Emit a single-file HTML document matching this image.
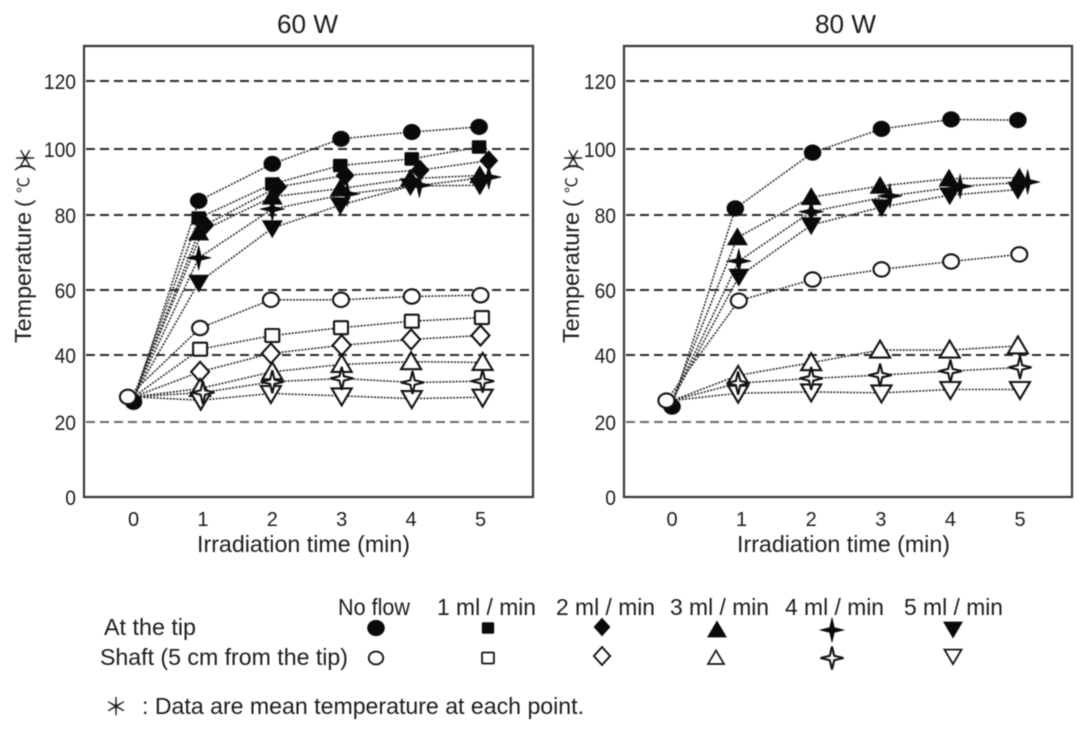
<!DOCTYPE html>
<html lang="en">
<head>
<meta charset="utf-8">
<title>Temperature vs irradiation time at 60 W and 80 W</title>
<style>
html,body{margin:0;padding:0;background:#fff;}
svg{display:block;filter:blur(0.45px);}
text{font-family:"Liberation Sans","Noto Sans CJK JP",sans-serif;fill:#1c1c1c;}
</style>
</head>
<body>
<svg id="figure" xmlns="http://www.w3.org/2000/svg" width="1087" height="733" viewBox="0 0 1087 733">
  <rect x="0" y="0" width="1087" height="733" fill="#fff"/>
  <text x="277" y="33" font-size="26" textLength="61" lengthAdjust="spacingAndGlyphs">60 W</text>
  <text x="815" y="33" font-size="26" textLength="61" lengthAdjust="spacingAndGlyphs">80 W</text>

  <g id="panel-60"></g>
  <g id="panel-80"></g>

  <text x="197" y="552" font-size="23" textLength="213" lengthAdjust="spacingAndGlyphs">Irradiation time (min)</text>
  <text x="737" y="552" font-size="23" textLength="213" lengthAdjust="spacingAndGlyphs">Irradiation time (min)</text>

  <g transform="translate(31,343) rotate(-90)">
    <text x="0" y="0" font-size="23" textLength="131" lengthAdjust="spacingAndGlyphs">Temperature</text>
    <text x="136" y="0" font-size="22">(</text>
    <text x="150" y="-2" font-size="16">℃</text>
    <text x="172" y="0" font-size="22">)</text>
    <text x="173" y="3" font-size="24">＊</text>
  </g>
  <g transform="translate(579,343) rotate(-90)">
    <text x="0" y="0" font-size="23" textLength="131" lengthAdjust="spacingAndGlyphs">Temperature</text>
    <text x="136" y="0" font-size="22">(</text>
    <text x="150" y="-2" font-size="16">℃</text>
    <text x="172" y="0" font-size="22">)</text>
    <text x="173" y="3" font-size="24">＊</text>
  </g>

  <g id="legend">
    <text x="338" y="615" font-size="23" textLength="72" lengthAdjust="spacingAndGlyphs">No flow</text>
    <text x="437" y="615" font-size="23" textLength="99" lengthAdjust="spacingAndGlyphs">1 ml / min</text>
    <text x="556" y="615" font-size="23" textLength="99" lengthAdjust="spacingAndGlyphs">2 ml / min</text>
    <text x="670" y="615" font-size="23" textLength="99" lengthAdjust="spacingAndGlyphs">3 ml / min</text>
    <text x="785" y="615" font-size="23" textLength="99" lengthAdjust="spacingAndGlyphs">4 ml / min</text>
    <text x="904" y="615" font-size="23" textLength="99" lengthAdjust="spacingAndGlyphs">5 ml / min</text>
    <text x="104" y="635" font-size="23" textLength="92" lengthAdjust="spacingAndGlyphs">At the tip</text>
    <text x="100" y="665" font-size="23" textLength="248" lengthAdjust="spacingAndGlyphs">Shaft (5 cm from the tip)</text>
  </g>

  <text x="104" y="715" font-size="24">＊</text>
  <text x="142" y="714" font-size="23" textLength="442" lengthAdjust="spacingAndGlyphs">: Data are mean temperature at each point.</text>
</svg>

<script>
// ---- Axis categories and tick labels ----
const yTicks = [0, 20, 40, 60, 80, 100, 120];
const xTicks = [0, 1, 2, 3, 4, 5];

// ---- 60 W panel: temperature (deg C) and reading time (min) per series ----
const temp60TipNoFlow = [26, 84.3, 95.5, 103, 105, 106.5];
const time60TipNoFlow = [0, 0.94, 2, 2.99, 4.01, 4.98];
const temp60Tip1ml = [27.5, 79.2, 89.4, 95, 97, 100.6];
const time60Tip1ml = [0, 0.94, 2, 2.98, 4.01, 4.98];
const temp60Tip2ml = [27.5, 77.3, 88.5, 92, 93.6, 96.5];
const time60Tip2ml = [0, 1.03, 2.08, 3.05, 4.13, 5.12];
const temp60Tip3ml = [27.5, 75.3, 85.5, 88, 91, 92];
const time60Tip3ml = [0, 0.94, 2, 2.98, 3.99, 4.99];
const temp60Tip4ml = [27.5, 68.6, 81.8, 86.4, 89, 91.5];
const time60Tip4ml = [0, 0.94, 2, 3.08, 4.12, 5.12];
const temp60Tip5ml = [27.5, 62, 76.5, 83, 88.8, 89];
const time60Tip5ml = [0, 0.94, 2, 2.98, 3.99, 4.99];
const temp60ShaftNoFlow = [27.5, 48.3, 57, 57, 58, 58.4];
const time60ShaftNoFlow = [-0.08, 0.96, 1.98, 2.99, 4.01, 5];
const temp60Shaft1ml = [27.5, 41.8, 46, 48.4, 50.4, 51.5];
const time60Shaft1ml = [0, 0.96, 2, 2.99, 4.01, 5.02];
const temp60Shaft2ml = [27.5, 35, 40.5, 43, 44.8, 46];
const time60Shaft2ml = [0, 0.96, 1.98, 3, 4, 5];
const temp60Shaft3ml = [27.5, 30, 35, 37.2, 38, 37.8];
const time60Shaft3ml = [0, 0.96, 2, 3, 4, 5.03];
const temp60Shaft4ml = [27.5, 28.8, 32, 33, 31.8, 32.2];
const time60Shaft4ml = [0, 1, 2, 3, 4.02, 5.03];
const temp60Shaft5ml = [27.5, 26.5, 28.5, 27.8, 27, 27.4];
const time60Shaft5ml = [0, 0.97, 1.98, 3, 4.01, 5.03];

// ---- 80 W panel ----
const temp80TipNoFlow = [24.6, 82, 98.9, 105.9, 108.7, 108.5];
const time80TipNoFlow = [0, 0.91, 2.02, 3.01, 4.01, 4.97];
const temp80Tip3ml = [26.4, 74, 85.4, 88.8, 91, 91.3];
const time80Tip3ml = [0, 0.94, 2, 2.99, 3.98, 4.99];
const temp80Tip4ml = [26.4, 67.7, 81, 85.8, 88.7, 90];
const time80Tip4ml = [0, 0.96, 2, 3.13, 4.14, 5.11];
const temp80Tip5ml = [26.4, 63.6, 77.3, 82.4, 86, 87.7];
const time80Tip5ml = [0, 0.96, 2, 3.01, 3.99, 4.97];
const temp80ShaftNoFlow = [26.4, 56.7, 62.8, 65.5, 67.6, 69.5];
const time80ShaftNoFlow = [-0.08, 0.96, 2.02, 3.01, 4.01, 4.99];
const temp80Shaft3ml = [26.4, 33.9, 37.7, 41.5, 41.5, 42.8];
const time80Shaft3ml = [0, 0.95, 2, 2.99, 3.99, 4.97];
const temp80Shaft4ml = [26.4, 31.6, 33, 34, 35.2, 36.3];
const time80Shaft4ml = [0, 0.95, 2, 2.99, 4, 5];
const temp80Shaft5ml = [26.4, 28.6, 29, 28.7, 29.7, 29.7];
const time80Shaft5ml = [0, 0.95, 2, 3.01, 4, 5];

const SVG_NS = 'http://www.w3.org/2000/svg';

// Shared y axis: the printed gridlines are not perfectly evenly spaced, so the
// scale is piecewise between each tick.
function yScale(value) {
  const px = [497, 422, 355, 290, 215, 149, 81];
  const step = 20;
  let i = Math.floor(value / step);
  i = Math.max(0, Math.min(px.length - 2, i));
  return px[i] + (value - i * step) / step * (px[i + 1] - px[i]);
}
function x60(t) { return 133.5 + 69.4 * t; }
function x80(t) { return 672 + 69.6 * t; }

function make(tag, parent, attrs) {
  const el = document.createElementNS(SVG_NS, tag);
  for (const k in attrs) el.setAttribute(k, attrs[k]);
  parent.appendChild(el);
  return el;
}

function starPath(outer, inner) {
  return 'M0 ' + (-outer) + 'L' + inner + ' ' + (-inner) + 'L' + outer + ' 0L' + inner + ' ' + inner +
         'L0 ' + outer + 'L' + (-inner) + ' ' + inner + 'L' + (-outer) + ' 0L' + (-inner) + ' ' + (-inner) + 'Z';
}

function drawMarker(parent, shape, filled, cx, cy, scale, name) {
  const ink = filled ? '#0a0a0a' : '#fff';
  const style = { fill: ink, stroke: '#141414', 'stroke-width': filled ? 0.6 : 2.1,
    transform: 'translate(' + cx.toFixed(1) + ',' + cy.toFixed(1) + ') scale(' + scale + ')' };
  let el;
  if (shape === 'circle') {
    el = make('ellipse', parent, Object.assign({ cx: 0, cy: 0, rx: filled ? 8.5 : 8, ry: filled ? 7.8 : 7.2 }, style));
  } else if (shape === 'square') {
    el = make('rect', parent, Object.assign({ x: -7, y: -6.5, width: 14, height: 13, rx: 1 }, style));
  } else if (shape === 'diamond') {
    el = make('path', parent, Object.assign({ d: 'M0 -10L9 0L0 10L-9 0Z' }, style));
  } else if (shape === 'up') {
    el = make('path', parent, Object.assign({ d: 'M0 -9.5L10 7.5L-10 7.5Z' }, style));
  } else if (shape === 'down') {
    el = make('path', parent, Object.assign({ d: 'M0 9.5L10 -7.5L-10 -7.5Z' }, style));
  } else {
    const d = filled ? starPath(12.5, 2.4) : starPath(11.5, 2.2);
    el = make('path', parent, Object.assign({ d: d }, style));
  }
  
  
  return el;
}

function drawPanel(rootId, panelName, left, right, xScale, series) {
  const root = document.getElementById(rootId);

  const frame = make('path', root, { d: 'M' + left + ' 497V46H' + right + 'V497Z', fill: 'none', stroke: '#3a3a3a', 'stroke-width': 2.2 });
  
  

  yTicks.forEach(function (v) {
    if (v > 0) {
      const grid = make('line', root, { x1: left + 2, x2: right, y1: yScale(v), y2: yScale(v), stroke: v === 20 ? '#6a6a6a' : '#2a2a2a', 'stroke-width': 2, 'stroke-dasharray': '9 5' });
      
      
    }
    const text = String(v);
    const label = make('text', root, { x: left - 40, y: yScale(v) + 8, 'font-size': 21.5 });
    label.setAttribute('x', left - 8 - text.length * 10.7);
    label.setAttribute('textLength', text.length * 10.7);
    label.setAttribute('lengthAdjust', 'spacingAndGlyphs');
    label.textContent = text;
    
    
  });

  xTicks.forEach(function (t) {
    const label = make('text', root, { x: xScale(t), y: 526, 'font-size': 20, 'text-anchor': 'middle' });
    label.textContent = String(t);
    
    
  });

  series.forEach(function (s) {
    const pts = s.temps.map(function (v, i) { return xScale(s.times[i]).toFixed(1) + ',' + yScale(v).toFixed(1); }).join(' ');
    const line = make('polyline', root, { points: pts, fill: 'none', stroke: '#2e2e2e', 'stroke-width': 1.6, 'stroke-dasharray': '2 1.3' });
    
    
  });

  series.forEach(function (s) {
    s.temps.forEach(function (v, i) {
      // At time zero all readings share one point; only the no-flow circles are visible there.
      if (i === 0 && s.shape !== 'circle') return;
      drawMarker(root, s.shape, s.filled, xScale(s.times[i]), yScale(v), 1, panelName + '-point-' + s.name + '-' + i);
    });
  });
}

drawPanel('panel-60', 'chart-60w', 84, 533, x60, [
  { name: 'tip-no-flow', shape: 'circle', filled: true, temps: temp60TipNoFlow, times: time60TipNoFlow },
  { name: 'tip-1ml', shape: 'square', filled: true, temps: temp60Tip1ml, times: time60Tip1ml },
  { name: 'tip-2ml', shape: 'diamond', filled: true, temps: temp60Tip2ml, times: time60Tip2ml },
  { name: 'tip-3ml', shape: 'up', filled: true, temps: temp60Tip3ml, times: time60Tip3ml },
  { name: 'tip-4ml', shape: 'star', filled: true, temps: temp60Tip4ml, times: time60Tip4ml },
  { name: 'tip-5ml', shape: 'down', filled: true, temps: temp60Tip5ml, times: time60Tip5ml },
  { name: 'shaft-2ml', shape: 'diamond', filled: false, temps: temp60Shaft2ml, times: time60Shaft2ml },
  { name: 'shaft-3ml', shape: 'up', filled: false, temps: temp60Shaft3ml, times: time60Shaft3ml },
  { name: 'shaft-5ml', shape: 'down', filled: false, temps: temp60Shaft5ml, times: time60Shaft5ml },
  { name: 'shaft-4ml', shape: 'star', filled: false, temps: temp60Shaft4ml, times: time60Shaft4ml },
  { name: 'shaft-1ml', shape: 'square', filled: false, temps: temp60Shaft1ml, times: time60Shaft1ml },
  { name: 'shaft-no-flow', shape: 'circle', filled: false, temps: temp60ShaftNoFlow, times: time60ShaftNoFlow }
]);

drawPanel('panel-80', 'chart-80w', 624, 1072, x80, [
  { name: 'tip-no-flow', shape: 'circle', filled: true, temps: temp80TipNoFlow, times: time80TipNoFlow },
  { name: 'tip-3ml', shape: 'up', filled: true, temps: temp80Tip3ml, times: time80Tip3ml },
  { name: 'tip-5ml', shape: 'down', filled: true, temps: temp80Tip5ml, times: time80Tip5ml },
  { name: 'tip-4ml', shape: 'star', filled: true, temps: temp80Tip4ml, times: time80Tip4ml },
  { name: 'shaft-3ml', shape: 'up', filled: false, temps: temp80Shaft3ml, times: time80Shaft3ml },
  { name: 'shaft-5ml', shape: 'down', filled: false, temps: temp80Shaft5ml, times: time80Shaft5ml },
  { name: 'shaft-4ml', shape: 'star', filled: false, temps: temp80Shaft4ml, times: time80Shaft4ml },
  { name: 'shaft-no-flow', shape: 'circle', filled: false, temps: temp80ShaftNoFlow, times: time80ShaftNoFlow }
]);

// Legend key markers
const legend = document.getElementById('legend');
drawMarker(legend, 'circle', true, 376, 628, 1, 'legend-marker-tip-no-flow');
drawMarker(legend, 'square', true, 488, 628, 0.85, 'legend-marker-tip-1ml');
drawMarker(legend, 'diamond', true, 602, 627, 0.9, 'legend-marker-tip-2ml');
drawMarker(legend, 'up', true, 717, 630, 0.95, 'legend-marker-tip-3ml');
drawMarker(legend, 'star', true, 832, 630, 1, 'legend-marker-tip-4ml');
drawMarker(legend, 'down', true, 953, 629, 0.95, 'legend-marker-tip-5ml');
drawMarker(legend, 'circle', false, 376, 658, 0.9, 'legend-marker-shaft-no-flow');
drawMarker(legend, 'square', false, 488, 658, 0.85, 'legend-marker-shaft-1ml');
drawMarker(legend, 'diamond', false, 602, 656, 0.9, 'legend-marker-shaft-2ml');
drawMarker(legend, 'up', false, 716, 658, 0.8, 'legend-marker-shaft-3ml');
drawMarker(legend, 'star', false, 832, 658, 1, 'legend-marker-shaft-4ml');
drawMarker(legend, 'down', false, 953, 656, 0.85, 'legend-marker-shaft-5ml');
</script>
</body>
</html>
